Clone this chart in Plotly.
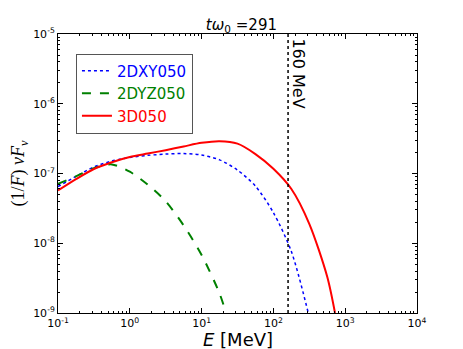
import plotly.graph_objects as go
import math

# photon energy grids [MeV] and (1/F) nu F_nu values
e_xy = [0.1, 0.178, 0.316, 0.562, 1, 1.78, 3.16, 5.62, 10, 17.8, 31.6, 56.2, 100, 178, 306]
f_xy = [6.5e-8, 9.1e-8, 1.24e-7, 1.51e-7, 1.7e-7, 1.82e-7, 1.9e-7, 1.93e-7, 1.84e-7, 1.57e-7, 1.12e-7, 6.6e-8, 2.75e-8, 7.6e-9, 1.0e-9]

e_yz = [0.1, 0.178, 0.316, 0.562, 1, 1.78, 3.16, 5.62, 10, 17.8, 21.9]
f_yz = [7.1e-8, 9.1e-8, 1.19e-7, 1.35e-7, 1.06e-7, 6.9e-8, 4.0e-8, 1.8e-8, 6.8e-9, 1.9e-9, 1.0e-9]

e_3d = [0.1, 0.178, 0.316, 0.562, 1, 1.78, 3.16, 5.62, 10, 17.8, 31.6, 56.2, 100, 178, 316, 562, 721]
f_3d = [5.7e-8, 8.3e-8, 1.16e-7, 1.45e-7, 1.72e-7, 1.93e-7, 2.16e-7, 2.44e-7, 2.75e-7, 2.9e-7, 2.68e-7, 1.9e-7, 1.17e-7, 6.0e-8, 1.9e-8, 3.3e-9, 1.0e-9]

cut_energy = 160
x_ticks = [0.1, 1, 10, 100, 1000, 10000]
x_labels = ['10<sup>-1</sup>', '10<sup>0</sup>', '10<sup>1</sup>', '10<sup>2</sup>', '10<sup>3</sup>', '10<sup>4</sup>']
y_ticks = [1e-9, 1e-8, 1e-7, 1e-6, 1e-5]
y_labels = ['10<sup>-9</sup>', '10<sup>-8</sup>', '10<sup>-7</sup>', '10<sup>-6</sup>', '10<sup>-5</sup>']

fig = go.Figure()

fig.add_trace(go.Scatter(
    x=e_xy, y=f_xy, mode='lines', line_shape='spline',
    name="<span style='color:#0000ff'>2DXY050</span>",
    line=dict(color='#0000ff', width=1.5, dash='dot', smoothing=0.8)
))
fig.add_trace(go.Scatter(
    x=e_yz, y=f_yz, mode='lines', line_shape='spline',
    name="<span style='color:#008000'>2DYZ050</span>",
    line=dict(color='#008000', width=2, dash='dash', smoothing=0.8)
))
fig.add_trace(go.Scatter(
    x=e_3d, y=f_3d, mode='lines', line_shape='spline',
    name="<span style='color:#ff0000'>3D050</span>",
    line=dict(color='#ff0000', width=2, smoothing=0.8)
))

# 160 MeV marker
fig.add_trace(go.Scatter(
    x=[cut_energy, cut_energy], y=[1e-9, 1e-5], mode='lines',
    line=dict(color='black', width=1.5, dash='dot'), showlegend=False
))
fig.add_annotation(
    x=math.log10(cut_energy), y=1, xref='x', yref='paper', text='160 MeV', showarrow=False,
    textangle=90, xanchor='left', yanchor='top', xshift=-1, yshift=-2,
    font=dict(size=16, color='black', family='DejaVu Sans')
)
# x axis title
fig.add_annotation(
    x=0.5, y=0, xref='paper', yref='paper', text='<i>E</i> [MeV]', showarrow=False,
    xanchor='center', yanchor='top', yshift=-14,
    font=dict(size=18, family='DejaVu Sans', color='black')
)

axis_style = dict(
    type='log', showgrid=False, zeroline=False, showline=True, linecolor='black', linewidth=1,
    mirror='allticks', ticks='inside', ticklen=5, tickcolor='black', automargin=False,
    minor=dict(ticks='inside', ticklen=2, tickcolor='black', dtick='D1'),
    tickfont=dict(size=11, family='DejaVu Sans', color='black')
)

fig.update_xaxes(range=[-1, 4], tickvals=x_ticks, ticktext=x_labels, **axis_style)
fig.update_yaxes(
    range=[-9, -5], tickvals=y_ticks, ticktext=y_labels,
    title=dict(text='(1/<i>F</i>) <i>νF</i><sub><i>ν</i></sub>', font=dict(size=18, family='Liberation Serif', color='black'), standoff=8),
    **axis_style
)

# page body adds an 8px offset, so the figure is 8px smaller than the window
fig.update_layout(
    width=455, height=341,
    margin=dict(l=50, r=46, t=26, b=36),
    paper_bgcolor='white', plot_bgcolor='white',
    title=dict(text='<i>tω</i><sub>0</sub> =291', x=0.513, xanchor='center', y=0.95, yanchor='middle',
               font=dict(size=15, family='DejaVu Sans', color='black')),
    legend=dict(x=0.05, y=0.93, xanchor='left', yanchor='top', bordercolor='#555555', borderwidth=1,
                bgcolor='white', font=dict(size=15, family='DejaVu Sans'), itemwidth=30,
                tracegroupgap=0),
    showlegend=True
)

fig.write_html("out.html")
